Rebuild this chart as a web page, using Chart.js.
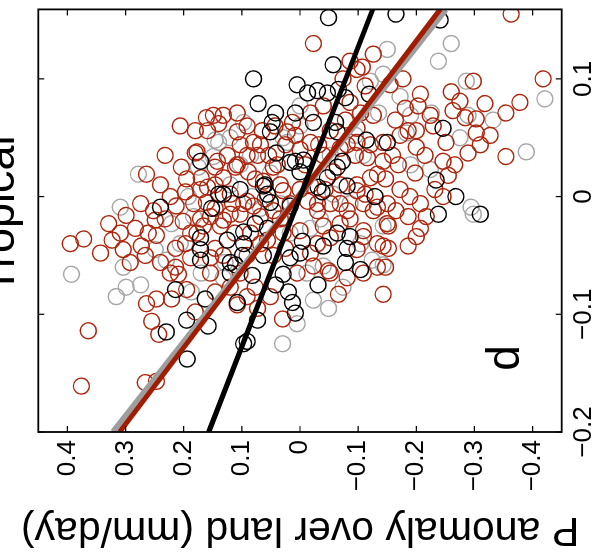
<!DOCTYPE html>
<html>
<head>
<meta charset="utf-8">
<script src="https://cdn.jsdelivr.net/npm/chart.js@4.4.1/dist/chart.umd.min.js"></script>
<style>
html, body { margin: 0; padding: 0; background: #fff; overflow: hidden; }
/* the figure is drawn upright, then turned a quarter turn to the left */
#wrap { position: absolute; left: 0; top: 0; width: 559px; height: 596px;
        transform-origin: 0 0; transform: translate(0px, 559px) rotate(-90deg); }
</style>
</head>
<body>
<div id="wrap"><canvas id="myChart" width="559" height="596"></canvas></div>
<script>
const titleText = 'Tropical';
const yTitle = 'P anomaly over land (mm/day)';
const panelLetter = { text: 'd', x: -0.148, y: -0.377 };
const xTicks = [-0.2, -0.1, 0, 0.1];
const pTicks = [-0.4, -0.3, -0.2, -0.1, 0, 0.1, 0.2, 0.3, 0.4];

// [x, P anomaly]
const seriesBlack = [[0.030,0.171],[-0.009,0.240],[-0.010,0.152],[0.002,0.140],[0.152,-0.049],[0.112,-0.057],[0.100,0.080],[0.095,0.005],[0.088,-0.013],[0.090,-0.030],[0.088,-0.047],[0.091,-0.066],[0.084,-0.078],[0.087,-0.119],[0.079,0.072],[0.071,0.042],[0.071,0.008],[0.063,0.048],[0.055,0.051],[0.063,-0.023],[0.063,-0.061],[0.055,-0.064],[0.037,0.041],[0.030,0.008],[0.021,0.000],[0.048,-0.114],[0.046,-0.150],[0.030,-0.073],[0.016,-0.047],[0.009,-0.081],[0.009,0.063],[0.002,0.056],[0.006,0.103],[0.002,0.132],[-0.005,0.051],[0.004,-0.038],[0.000,-0.129],[-0.008,0.017],[0.155,-0.165],[0.150,-0.241],[0.058,-0.246],[0.014,-0.234],[0.000,-0.268],[-0.015,-0.238],[-0.015,-0.310],[-0.079,0.214],[-0.087,0.163],[-0.105,0.195],[-0.115,0.230],[-0.138,0.194],[-0.110,0.158],[-0.035,0.171],[-0.054,0.171],[0.010,0.060],[0.029,0.017],[0.031,-0.006],[0.025,-0.064],[0.008,-0.031],[-0.023,0.077],[-0.030,0.097],[-0.037,0.125],[-0.045,0.171],[-0.058,0.111],[-0.040,0.097],[-0.027,0.056],[-0.050,0.063],[-0.052,0.017],[-0.048,0.000],[-0.038,-0.004],[-0.042,-0.040],[-0.031,-0.064],[-0.044,-0.081],[-0.056,-0.078],[-0.062,-0.104],[-0.066,0.029],[-0.067,0.082],[-0.065,0.120],[-0.056,0.120],[-0.050,0.099],[-0.090,0.108],[-0.105,0.073],[-0.125,0.097],[-0.123,0.091],[-0.075,0.042],[-0.081,0.020],[-0.090,0.013],[-0.099,0.008],[-0.075,-0.031],[-0.034,-0.086]];

const seriesGray = [[0.019,0.278],[-0.009,0.309],[0.025,0.175],[0.046,0.140],[0.000,0.192],[0.034,0.149],[0.125,-0.150],[0.104,-0.143],[0.130,-0.260],[0.115,-0.238],[0.083,-0.421],[0.038,-0.389],[0.065,-0.332],[0.098,-0.286],[0.069,-0.289],[0.050,-0.275],[0.071,-0.226],[-0.009,-0.294],[0.085,-0.172],[0.054,-0.183],[0.023,-0.224],[-0.066,0.393],[-0.060,0.304],[-0.085,0.316],[-0.077,0.299],[-0.075,0.274],[-0.054,0.230],[-0.045,0.249],[-0.023,0.221],[-0.081,0.187],[-0.065,0.170],[-0.088,-0.023],[-0.095,-0.049],[-0.125,0.030],[-0.108,0.005],[-0.077,-0.074],[-0.054,-0.124],[-0.058,-0.143],[-0.015,-0.298],[0.048,0.146],[0.046,0.022],[0.035,-0.109],[-0.025,-0.143],[-0.065,-0.012],[-0.059,-0.040],[0.020,0.051],[0.002,-0.057],[0.000,0.082],[-0.017,0.183],[-0.069,0.132],[0.063,0.097],[0.050,0.029],[0.098,-0.121],[0.071,-0.135],[0.050,0.120],[0.027,0.103],[-0.019,-0.035],[-0.010,0.068],[-0.006,-0.086],[0.060,0.000],[0.010,0.120],[0.052,-0.095],[0.027,-0.190],[-0.040,0.206],[-0.031,0.017],[0.035,0.085],[-0.006,0.034],[-0.027,-0.018],[0.035,-0.052],[-0.056,0.129],[-0.040,-0.104],[0.077,0.000],[0.069,-0.190]];

const seriesRed = [[0.067,0.161],[0.056,0.159],[0.025,0.204],[0.037,0.180],[0.019,0.264],[0.015,0.195],[0.016,0.170],[0.025,0.146],[0.000,0.223],[0.004,0.197],[-0.008,0.213],[-0.012,0.252],[-0.016,0.299],[-0.023,0.329],[-0.005,0.161],[0.130,-0.023],[0.115,-0.086],[0.110,-0.107],[0.121,-0.126],[0.069,0.132],[0.071,0.108],[0.030,0.142],[0.155,-0.363],[0.100,-0.418],[0.098,-0.298],[0.080,-0.378],[0.071,-0.354],[0.079,-0.318],[0.089,-0.260],[0.087,-0.207],[0.077,-0.203],[0.075,-0.181],[0.073,-0.263],[0.069,-0.224],[0.067,-0.284],[0.066,-0.303],[0.054,-0.303],[0.046,-0.251],[0.060,-0.229],[0.056,-0.200],[0.056,-0.186],[0.037,-0.289],[0.034,-0.354],[0.030,-0.246],[0.018,-0.255],[0.100,-0.177],[0.095,-0.155],[0.042,-0.200],[0.027,-0.169],[0.020,-0.198],[0.000,-0.246],[0.000,-0.189],[-0.017,-0.217],[-0.012,-0.165],[-0.040,0.395],[-0.036,0.372],[-0.037,0.323],[-0.045,0.304],[-0.042,0.273],[-0.050,0.266],[-0.031,0.261],[-0.033,0.247],[-0.020,0.249],[-0.021,0.201],[-0.040,0.197],[-0.065,0.223],[-0.066,0.209],[-0.060,0.214],[-0.091,0.264],[-0.087,0.247],[-0.087,0.221],[-0.079,0.195],[-0.106,0.255],[-0.117,0.243],[-0.114,0.364],[-0.161,0.376],[-0.158,0.266],[-0.157,0.247],[-0.098,0.180],[-0.104,0.030],[-0.095,0.073],[-0.083,-0.066],[-0.083,-0.143],[-0.060,-0.133],[-0.069,-0.081],[-0.063,-0.049],[-0.059,-0.023],[-0.042,-0.143],[-0.034,-0.109],[-0.092,0.108],[-0.085,0.091],[-0.025,-0.152],[-0.017,-0.186],[-0.034,-0.200],[-0.027,-0.207],[-0.042,-0.186],[-0.044,-0.152],[-0.060,-0.147],[0.108,-0.098],[0.094,-0.112],[0.100,-0.074],[0.069,0.149],[0.060,0.091],[0.055,0.108],[0.035,0.125],[0.044,0.103],[0.046,0.080],[0.035,0.073],[0.025,0.111],[0.021,0.089],[0.027,0.039],[0.044,0.025],[0.055,0.022],[0.063,0.013],[0.071,-0.018],[0.077,-0.040],[0.080,-0.086],[0.071,-0.104],[0.069,-0.126],[0.058,-0.098],[0.044,-0.081],[0.033,-0.116],[0.030,-0.143],[0.016,-0.121],[0.005,-0.098],[-0.006,-0.069],[-0.006,-0.030],[0.010,-0.018],[0.021,-0.057],[-0.009,-0.133],[-0.006,-0.150],[0.005,0.029],[-0.006,0.097],[-0.015,0.120],[-0.017,0.068],[0.038,0.177],[0.027,0.108],[0.035,0.091],[0.016,0.132],[0.008,0.159],[-0.006,0.183],[-0.017,0.154],[-0.020,0.132],[-0.015,0.103],[-0.008,0.080],[-0.004,0.091],[-0.012,0.046],[-0.006,0.017],[-0.004,-0.013],[-0.012,-0.030],[-0.006,-0.052],[-0.012,-0.081],[-0.006,-0.109],[-0.012,-0.126],[0.019,-0.133],[0.010,-0.098],[0.041,-0.069],[0.035,-0.040],[0.046,-0.018],[0.046,-0.098],[0.046,-0.143],[0.025,0.046],[0.013,0.063],[-0.025,0.137],[-0.025,0.166],[-0.031,0.085],[-0.037,0.056],[-0.031,0.029],[-0.029,0.000],[-0.025,-0.040],[-0.023,-0.069],[-0.029,-0.109],[-0.023,-0.150],[-0.040,-0.133],[-0.045,-0.098],[-0.040,-0.030],[-0.050,0.046],[-0.050,0.091],[-0.050,0.132],[-0.065,0.154],[-0.065,0.103],[-0.065,0.005],[-0.065,-0.052],[-0.065,-0.109],[-0.031,0.177],[0.062,0.140],[0.006,0.171],[0.002,0.120],[-0.002,0.060],[-0.019,0.034],[0.006,0.000],[0.006,-0.043],[0.056,0.065],[0.060,0.043],[0.040,0.000],[0.056,-0.052],[-0.044,0.146],[-0.052,0.188],[-0.019,0.232],[-0.027,0.283],[-0.031,0.309],[0.006,-0.172],[0.035,-0.215],[0.065,-0.164],[0.081,-0.275],[0.052,-0.327],[-0.077,0.077],[-0.081,0.146],[-0.056,0.292],[-0.048,0.343],[0.010,0.146],[-0.006,0.116],[0.044,0.068],[0.035,0.054],[0.052,0.008],[0.027,-0.009],[0.044,-0.032],[0.065,-0.078],[0.035,-0.095],[0.044,-0.121],[0.035,-0.159],[0.052,-0.172],[0.015,-0.147],[0.002,-0.112],[-0.019,-0.086],[-0.035,-0.052],[-0.048,-0.018],[-0.044,0.025],[-0.040,0.068],[-0.031,0.112],[-0.010,0.146],[-0.019,0.171],[-0.031,0.188],[-0.044,0.214],[-0.056,0.240],[-0.052,0.154],[-0.077,0.120],[-0.085,0.051],[0.060,0.206],[0.056,0.180],[0.035,0.232],[0.010,0.240],[-0.006,0.274],[0.015,0.077],[0.010,0.034],[0.010,-0.069],[-0.006,-0.207],[0.006,-0.232],[0.027,-0.266],[0.044,-0.310]];

// regression lines, end points
const fitBlack = [[-0.2, 0.157], [0.159, -0.125]];
const fitRed = [[-0.2, 0.310], [0.159, -0.241]];
const fitGray = [[-0.2, 0.321], [0.159, -0.250]];

const fontFamily = '"Liberation Sans", Arial, Helvetica, sans-serif';
const redColor = '#ad250c';
const redLine = '#a01d02';
const grayColor = '#a6a6a6';

function toXY(arr) {
    return arr.map(p => ({ x: p[0], y: p[1] }));
}

function fmt(v) {
    if (Math.abs(v) < 1e-9) return '0';
    return (v < 0 ? '\u2212' : '') + Math.abs(v).toFixed(1);
}

function points(label, arr, color, order) {
    return {
        label: label,
        data: toXY(arr),
        borderColor: color,
        backgroundColor: 'rgba(0,0,0,0)',
        pointBorderColor: color,
        pointBackgroundColor: 'rgba(0,0,0,0)',
        pointRadius: 8,
        pointBorderWidth: 1.4,
        order: order
    };
}

function fitLine(label, arr, color, width, order) {
    return {
        label: label,
        data: toXY(arr),
        showLine: true,
        borderColor: color,
        borderWidth: width,
        borderCapStyle: 'butt',
        pointRadius: 0,
        fill: false,
        order: order
    };
}

// frame, inward ticks, title and panel letter
const framePlugin = {
    id: 'frame',
    afterDatasetsDraw(chart) {
        const { ctx, chartArea: a, scales } = chart;
        ctx.save();
        ctx.strokeStyle = '#000';
        ctx.lineWidth = 1.2;
        ctx.beginPath();
        xTicks.forEach(v => {
            const px = scales.x.getPixelForValue(v);
            ctx.moveTo(px, a.bottom); ctx.lineTo(px, a.bottom - 6);
            ctx.moveTo(px, a.top); ctx.lineTo(px, a.top + 6);
        });
        pTicks.forEach(v => {
            const py = scales.y.getPixelForValue(v);
            ctx.moveTo(a.left, py); ctx.lineTo(a.left + 6, py);
            ctx.moveTo(a.right, py); ctx.lineTo(a.right - 6, py);
        });
        ctx.stroke();
        ctx.lineWidth = 1.8;
        ctx.strokeRect(a.left, a.top, a.right - a.left, a.bottom - a.top);

        ctx.fillStyle = '#000';
        ctx.textBaseline = 'alphabetic';
        ctx.textAlign = 'center';
        ctx.font = '45px ' + fontFamily;
        ctx.fillText(titleText, (a.left + a.right) / 2 + 6, 14);
        ctx.textAlign = 'left';
        ctx.font = '46px ' + fontFamily;
        ctx.fillText(panelLetter.text, scales.x.getPixelForValue(panelLetter.x), scales.y.getPixelForValue(panelLetter.y));
        ctx.restore();
    }
};

const ctx = document.getElementById('myChart').getContext('2d');
new Chart(ctx, {
    type: 'scatter',
    data: {
        datasets: [
            fitLine('black fit', fitBlack, '#000', 5, 0),
            fitLine('red fit', fitRed, redLine, 5, 1),
            fitLine('gray fit', fitGray, '#9e9e9e', 6.5, 2),
            points('black', seriesBlack, '#000', 3),
            points('red', seriesRed, redColor, 4),
            points('gray', seriesGray, grayColor, 5)
        ]
    },
    options: {
        responsive: false,
        animation: false,
        events: [],
        layout: { padding: { top: 38.3, right: 1.7, left: 0, bottom: 0 } },
        plugins: {
            legend: { display: false },
            tooltip: { enabled: false }
        },
        scales: {
            x: {
                type: 'linear',
                min: -0.2,
                max: 0.159,
                grid: { display: false, drawTicks: false },
                border: { display: false },
                afterBuildTicks: s => { s.ticks = xTicks.map(v => ({ value: v })); },
                afterFit: s => { s.height = 34.3; },
                ticks: {
                    padding: 7, color: '#000', autoSkip: false, maxRotation: 0,
                    font: { size: 26, family: fontFamily },
                    callback: v => fmt(v)
                }
            },
            y: {
                type: 'linear',
                min: -0.45,
                max: 0.45,
                grid: { display: false, drawTicks: false },
                border: { display: false },
                afterBuildTicks: s => { s.ticks = pTicks.map(v => ({ value: v })); },
                afterFit: s => { s.width = 127; },
                ticks: {
                    padding: 8, color: '#000', autoSkip: false,
                    font: { size: 26, family: fontFamily },
                    callback: v => fmt(v)
                },
                title: {
                    display: true,
                    text: yTitle,
                    color: '#000',
                    font: { size: 41, family: fontFamily },
                    padding: { top: 5, bottom: 0 }
                }
            }
        }
    },
    plugins: [framePlugin]
});
</script>
</body>
</html>
